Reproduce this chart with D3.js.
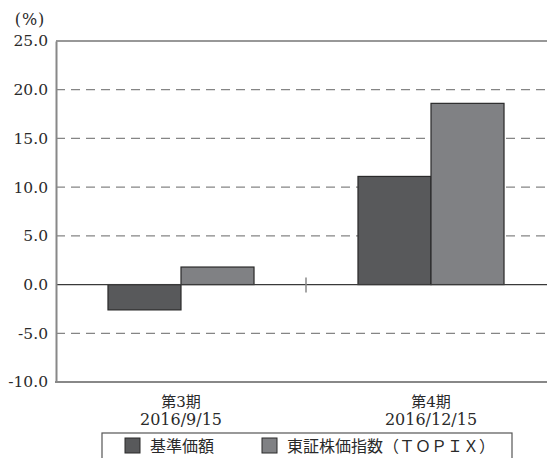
<!DOCTYPE html>
<html><head><meta charset="utf-8">
<script src="https://cdn.jsdelivr.net/npm/d3@7"></script>
<style>body{margin:0;background:#fff}svg{display:block}text{font-family:"DejaVu Serif","Liberation Serif","Noto Sans CJK JP",serif;fill:#2a2a2a}</style>
</head><body>
<script>
const categories = ["第3期\n2016/9/15", "第4期\n2016/12/15"];
const seriesNames = ["基準価額", "東証株価指数（ＴＯＰＩＸ）"];
const navValues = [-2.6, 11.1];
const topixValues = [1.8, 18.6];
const yTicks = [-10, -5, 0, 5, 10, 15, 20, 25];
const colors = ["#58595b", "#808184"];

const W = 547, H = 458;
const svg = d3.select("body").append("svg").attr("width", W).attr("height", H);
const pLeft = 56, pRight = 556, pTop = 41, pBottom = 382;

const y = d3.scaleLinear().domain([-10, 25]).range([pBottom, pTop]);
const x = d3.scaleBand().domain(categories).range([pLeft, pRight]).padding(0);
const xs = d3.scaleBand().domain(seriesNames).range([0, x.bandwidth()]).paddingInner(0).paddingOuter(0.712);

// grid
svg.append("g").selectAll("line").data(yTicks.filter(v => v !== -10 && v !== 0 && v !== 25)).join("line")
  .attr("x1", pLeft).attr("x2", W).attr("y1", d => y(d)).attr("y2", d => y(d))
  .attr("stroke", "#858585").attr("stroke-width", 1.3).attr("stroke-dasharray", "9,6");
// top border
svg.append("line").attr("x1", pLeft).attr("x2", W).attr("y1", y(25)).attr("y2", y(25)).attr("stroke", "#333").attr("stroke-width", 1.2);

// bars
const data = [];
categories.forEach((c, i) => {
  data.push({c, s: seriesNames[0], v: navValues[i], col: colors[0]});
  data.push({c, s: seriesNames[1], v: topixValues[i], col: colors[1]});
});
svg.append("g").selectAll("rect").data(data).join("rect")
  .attr("x", d => x(d.c) + xs(d.s))
  .attr("width", xs.bandwidth())
  .attr("y", d => y(Math.max(0, d.v)))
  .attr("height", d => Math.abs(y(d.v) - y(0)))
  .attr("fill", d => d.col).attr("stroke", "#2a2a2a").attr("stroke-width", 1.2);

// zero line
svg.append("line").attr("x1", pLeft).attr("x2", W).attr("y1", y(0)).attr("y2", y(0)).attr("stroke", "#3a3a3a").attr("stroke-width", 1.3);
// category separator tick
svg.append("line").attr("x1", x(categories[1])).attr("x2", x(categories[1])).attr("y1", y(0) - 7).attr("y2", y(0) + 8).attr("stroke", "#888").attr("stroke-width", 1.5);

// axes
const yAxis = svg.append("g").attr("transform", `translate(${pLeft},0)`)
  .call(d3.axisLeft(y).tickValues(yTicks).tickSize(0).tickPadding(8).tickFormat(d => d.toFixed(1)));
yAxis.select(".domain").attr("stroke", "#888").attr("stroke-width", 2);
yAxis.selectAll("text").attr("font-size", 15.5).attr("fill", "#2a2a2a")
  .style("font-family", '"DejaVu Serif","Liberation Serif",serif');
svg.append("line").attr("x1", pLeft - 1).attr("x2", W).attr("y1", pBottom).attr("y2", pBottom).attr("stroke", "#888").attr("stroke-width", 2);

// y unit
svg.append("text").attr("x", 30).attr("y", 25).attr("text-anchor", "middle").attr("font-size", 16).attr("letter-spacing", 1).text("(%)");

// category labels
categories.forEach(c => {
  const lines = c.split("\n");
  const cx = x(c) + x.bandwidth() / 2;
  svg.append("text").attr("x", cx).attr("y", 407).attr("text-anchor", "middle").attr("font-size", 15).text(lines[0]);
  svg.append("text").attr("x", cx).attr("y", 425).attr("text-anchor", "middle").attr("font-size", 16).text(lines[1]);
});

// legend
svg.append("rect").attr("x", 102).attr("y", 433).attr("width", 410).attr("height", 40).attr("fill", "none").attr("stroke", "#555").attr("stroke-width", 1.2);
const lx = [125, 262];
seriesNames.forEach((s, i) => {
  svg.append("rect").attr("x", lx[i]).attr("y", 438).attr("width", 15).attr("height", 15).attr("fill", colors[i]).attr("stroke", "#2a2a2a").attr("stroke-width", 1);
  svg.append("text").attr("x", lx[i] + 25).attr("y", 452).attr("font-size", 16).text(s);
});
</script>
</body></html>
